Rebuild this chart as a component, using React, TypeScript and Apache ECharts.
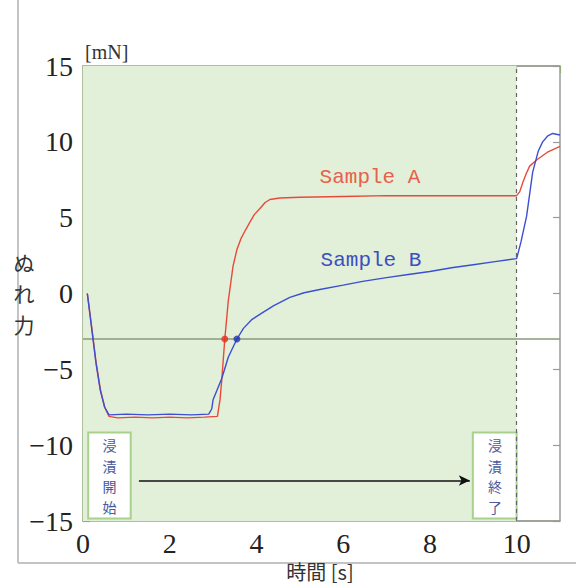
import React, { useEffect, useRef } from "react";
import * as echarts from "echarts";

// Sample A (red) : time [s], wetting force [mN]
const timeA = [0.1, 0.2, 0.3, 0.4, 0.5, 0.6, 0.8, 1.2, 1.6, 2.0, 2.4, 2.8, 3.1, 3.16, 3.2, 3.27, 3.35, 3.46, 3.55, 3.64, 3.75, 3.85, 3.95, 4.08, 4.2, 4.31, 4.54, 5.0, 6.0, 7.0, 8.0, 9.0, 10.0, 10.07, 10.14, 10.22, 10.3, 10.46, 10.7, 10.85, 11.0];
const forceA = [0, -2.2, -4.5, -6.3, -7.5, -8.1, -8.2, -8.15, -8.2, -8.15, -8.2, -8.15, -8.1, -7.0, -5.7, -3.0, -0.5, 1.8, 2.9, 3.6, 4.2, 4.7, 5.2, 5.6, 6.0, 6.2, 6.3, 6.35, 6.4, 6.45, 6.45, 6.45, 6.45, 6.7, 7.3, 7.9, 8.4, 8.8, 9.3, 9.5, 9.7];

// Sample B (blue)
const timeB = [0.1, 0.2, 0.3, 0.4, 0.5, 0.6, 1.0, 1.5, 2.0, 2.5, 2.9, 2.97, 3.0, 3.2, 3.35, 3.55, 3.7, 3.9, 4.15, 4.4, 4.77, 5.1, 5.46, 6.0, 6.45, 7.0, 7.5, 8.0, 8.5, 9.0, 9.5, 10.0, 10.1, 10.23, 10.37, 10.5, 10.6, 10.72, 10.83, 11.0];
const forceB = [0, -2.3, -4.6, -6.4, -7.5, -8.0, -7.95, -8.0, -7.95, -8.0, -7.95, -7.6, -7.0, -5.6, -4.2, -3.0, -2.3, -1.7, -1.25, -0.8, -0.26, 0.05, 0.26, 0.55, 0.8, 1.05, 1.25, 1.45, 1.7, 1.9, 2.1, 2.3, 3.4, 5.1, 8.0, 9.4, 10.0, 10.4, 10.55, 10.45];

// -3 mN crossing points
const crossTimes = [3.27, 3.55];
const crossForce = -3;

const xTicks = { min: 0, max: 11, interval: 2 };
const yTicks = { min: -15, max: 15, interval: 5 };
const immersionStart = 0;
const immersionEnd = 10;

// annotation texts (written vertically)
const startLabel = ["浸", "漬", "開", "始"];
const endLabel = ["浸", "漬", "終", "了"];

const GREEN_LINE = "#93ad7d";
const GRAY_LINE = "#9a9a9a";

export default function App() {
  const ref = useRef<HTMLDivElement>(null);

  useEffect(() => {
    document.body.style.margin = "0";
    if (!ref.current) return;
    const chart = echarts.init(ref.current, undefined, { renderer: "svg" });

    const dataA = timeA.map((t, i) => [t, forceA[i]]);
    const dataB = timeB.map((t, i) => [t, forceB[i]]);

    const numLabel = {
      fontFamily: "Liberation Serif",
      fontSize: 28,
      color: "#222",
    };

    const boxStyle = { color: "#ffffff", borderColor: "#a9d18e", borderWidth: 2 };

    const charTexts = (chars: string[], cx: number) =>
      chars.map((c, i) => ({
        type: "text",
        x: cx,
        y: 445.4 + i * 20.4,
        z: 30,
        style: {
          text: c,
          fontFamily: "Noto Sans CJK JP",
          fontSize: 14,
          fill: "#4a5a9a",
          textAlign: "center",
          textVerticalAlign: "middle",
        },
      }));

    const option: any = {
      animation: false,
      grid: { left: 83, right: 16, top: 66, bottom: 64, show: false },
      xAxis: [
        {
          type: "value",
          ...xTicks,
          position: "bottom",
          axisLine: { show: true, onZero: false, lineStyle: { color: GREEN_LINE, width: 1.5 } },
          axisTick: { inside: true, length: 7, lineStyle: { color: GREEN_LINE, width: 1.2 } },
          splitLine: { show: false },
          axisLabel: {
            ...numLabel,
            margin: 8,
            showMaxLabel: false,
            formatter: (v: number) => (v === 11 ? "" : String(v)),
          },
        },
        {
          type: "value",
          ...xTicks,
          position: "top",
          axisLine: { show: true, onZero: false, lineStyle: { color: GREEN_LINE, width: 1.5 } },
          axisTick: { inside: true, length: 7, lineStyle: { color: GREEN_LINE, width: 1.2 } },
          splitLine: { show: false },
          axisLabel: { show: false },
        },
      ],
      yAxis: [
        {
          type: "value",
          ...yTicks,
          position: "left",
          axisLine: { show: true, onZero: false, lineStyle: { color: GREEN_LINE, width: 1.5 } },
          axisTick: { inside: true, length: 7, lineStyle: { color: GREEN_LINE, width: 1.2 } },
          splitLine: { show: false },
          axisLabel: {
            ...numLabel,
            margin: 10,
            formatter: (v: number) => (v < 0 ? "\u2212" + Math.abs(v) : String(v)),
          },
        },
        {
          type: "value",
          ...yTicks,
          position: "right",
          axisLine: { show: true, onZero: false, lineStyle: { color: GRAY_LINE, width: 1.5 } },
          axisTick: { inside: true, length: 7, lineStyle: { color: GRAY_LINE, width: 1.2 } },
          splitLine: { show: false },
          axisLabel: { show: false },
        },
      ],
      series: [
        {
          type: "line",
          name: "bg",
          z: 1,
          silent: true,
          showSymbol: false,
          data: [
            [0, -15],
            [11, -15],
          ],
          lineStyle: { width: 0, opacity: 0 },
          markArea: {
            silent: true,
            label: { show: false },
            data: [
              [
                { xAxis: immersionStart, yAxis: -15, itemStyle: { color: "#e2efd9" } },
                { xAxis: immersionEnd, yAxis: 15 },
              ],
              [
                { coord: [0.12, -9.16], itemStyle: boxStyle },
                { coord: [1.1, -14.83] },
              ],
              [
                { coord: [8.99, -9.16], itemStyle: boxStyle },
                { coord: [10.0, -14.83] },
              ],
            ],
          },
          markLine: {
            silent: true,
            symbol: "none",
            label: { show: false },
            data: [
              { yAxis: crossForce, lineStyle: { color: "#8a9a7c", width: 1.5, type: "solid" } },
              { xAxis: immersionEnd, lineStyle: { color: "#666", width: 1.2, type: [4, 4] } },
              [
                { coord: [10, 15], lineStyle: { color: GRAY_LINE, width: 1.5, type: "solid" } },
                { coord: [11, 15] },
              ],
              [
                { coord: [10, -15], lineStyle: { color: GRAY_LINE, width: 1.5, type: "solid" } },
                { coord: [11, -15] },
              ],
              [
                {
                  coord: [1.29, -12.33],
                  symbol: "none",
                  lineStyle: { color: "#111", width: 1.5, type: "solid" },
                },
                { coord: [8.92, -12.33], symbol: "arrow", symbolSize: [8, 11] },
              ],
            ],
          },
        },
        {
          type: "line",
          name: "Sample A",
          z: 5,
          showSymbol: false,
          data: dataA,
          lineStyle: { color: "#e84a3a", width: 1.4 },
        },
        {
          type: "line",
          name: "Sample B",
          z: 5,
          showSymbol: false,
          data: dataB,
          lineStyle: { color: "#3b4fd0", width: 1.4 },
        },
        {
          type: "scatter",
          z: 10,
          symbolSize: 7,
          data: [
            { value: [crossTimes[0], crossForce], itemStyle: { color: "#e53020" } },
            { value: [crossTimes[1], crossForce], itemStyle: { color: "#2535b0" } },
          ],
        },
      ],
      graphic: [
        { type: "line", shape: { x1: 18, y1: 0, x2: 18, y2: 563 }, style: { stroke: "#c4c4c4", lineWidth: 2 } },
        { type: "line", shape: { x1: 18, y1: 563, x2: 576, y2: 563 }, style: { stroke: "#c4c4c4", lineWidth: 2 } },
        ...charTexts(startLabel, 109.5),
        ...charTexts(endLabel, 495),
        {
          type: "text",
          x: 85,
          y: 52,
          style: { text: "[mN]", fontFamily: "Liberation Serif", fontSize: 20, fill: "#333", textVerticalAlign: "middle" },
        },
        {
          type: "text",
          x: 24,
          y: 293,
          style: {
            text: "ぬ\nれ\n力",
            fontFamily: "Noto Sans CJK JP",
            fontSize: 21,
            lineHeight: 31,
            fill: "#333",
            textAlign: "center",
            textVerticalAlign: "middle",
          },
        },
        {
          type: "text",
          x: 320,
          y: 571,
          style: {
            text: "時間 [s]",
            fontFamily: "Noto Sans CJK JP",
            fontSize: 20,
            fill: "#333",
            textAlign: "center",
            textVerticalAlign: "middle",
          },
        },
        {
          type: "text",
          x: 370,
          y: 177,
          z: 20,
          style: {
            text: "Sample A",
            fontFamily: "Liberation Mono",
            fontSize: 21,
            fill: "#e8604a",
            textAlign: "center",
            textVerticalAlign: "middle",
          },
        },
        {
          type: "text",
          x: 371,
          y: 260,
          z: 20,
          style: {
            text: "Sample B",
            fontFamily: "Liberation Mono",
            fontSize: 21,
            fill: "#3a4fc0",
            textAlign: "center",
            textVerticalAlign: "middle",
          },
        },
      ],
    };

    chart.setOption(option);
    return () => chart.dispose();
  }, []);

  return <div ref={ref} style={{ width: 576, height: 585 }} />;
}
